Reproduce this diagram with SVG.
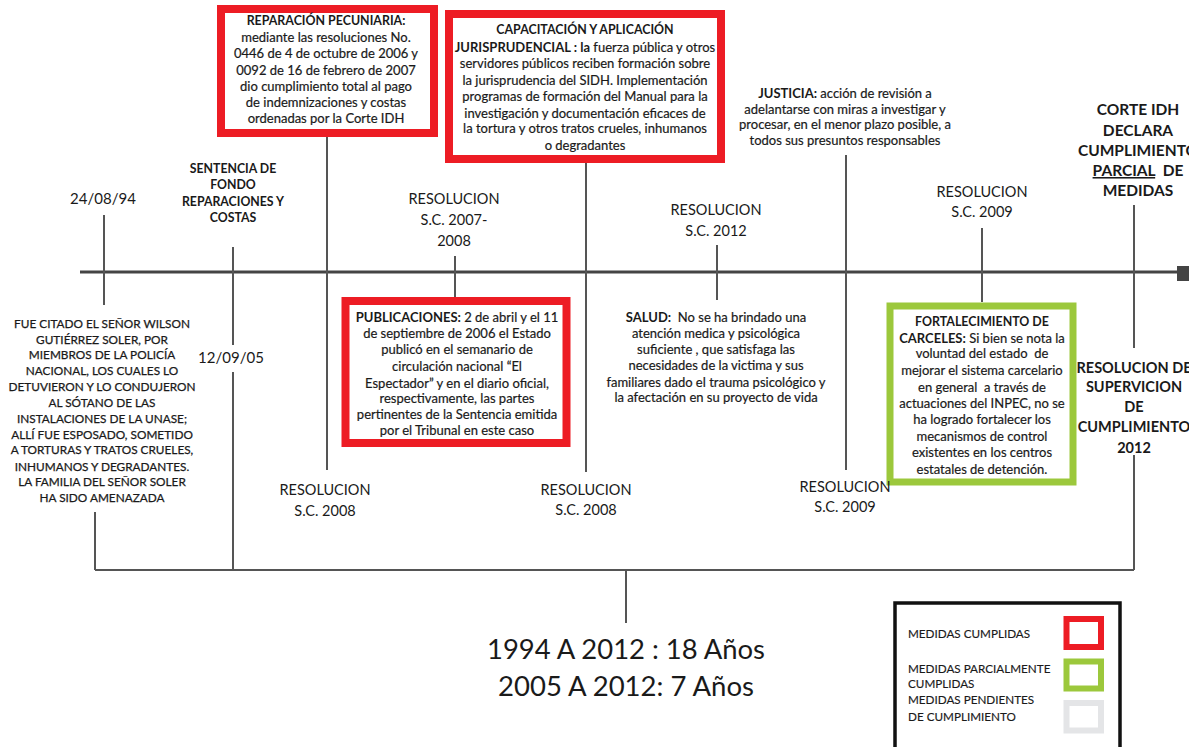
<svg xmlns="http://www.w3.org/2000/svg" width="1189" height="747" viewBox="0 0 1189 747">
  <style>
    text { font-family: Lato, "Liberation Sans", sans-serif; fill: #1a1a1a; text-anchor: middle; white-space: pre; }
    .b { font-weight: bold; }
    .box { font-size: 13px; stroke: #1a1a1a; stroke-width: 0.2; }
    .ttl { font-size: 12.4px; font-weight: bold; }
    .cap { font-size: 11.8px; stroke: #1a1a1a; stroke-width: 0.25; }
    .sent { font-size: 12.3px; font-weight: bold; }
    .date { font-size: 15px; }
    .res { font-size: 14.5px; }
    .hd { font-size: 15.5px; font-weight: bold; }
    .big { font-size: 26px; }
    .leg { font-size: 11.7px; text-anchor: start; stroke: #1a1a1a; stroke-width: 0.15; }
    .line { stroke: #555; stroke-width: 2; fill: none; }
    .axis { stroke: #444; stroke-width: 3; fill: none; }
    .red { fill: #fff; stroke: #ed1c24; stroke-width: 8; }
    .green { fill: #fff; stroke: #9cc83c; stroke-width: 7; }
  </style>
  <rect width="1189" height="747" fill="#fff"/>

  <!-- connectors: main axis, ticks and bottom bracket -->
  <g id="connectors">
    <line class="axis" x1="80" y1="272" x2="1178" y2="272"/>
    <rect x="1177" y="266" width="12" height="15" fill="#444"/>
    <line class="line" x1="104" y1="215" x2="104" y2="305"/>
    <line class="line" x1="95" y1="512" x2="95" y2="570"/>
    <line class="line" x1="233" y1="247" x2="233" y2="345"/>
    <line class="line" x1="233" y1="372" x2="233" y2="570"/>
    <line class="line" x1="327" y1="135" x2="327" y2="470"/>
    <line class="line" x1="455" y1="256" x2="455" y2="297"/>
    <line class="line" x1="586" y1="163" x2="586" y2="472"/>
    <line class="line" x1="717" y1="245" x2="717" y2="300"/>
    <line class="line" x1="846" y1="155" x2="846" y2="470"/>
    <line class="line" x1="982" y1="228" x2="982" y2="302"/>
    <line class="line" x1="1134" y1="205" x2="1134" y2="348"/>
    <line class="line" x1="1134" y1="455" x2="1134" y2="570"/>
    <line class="line" x1="95" y1="570" x2="1134" y2="570"/>
    <line class="line" x1="626" y1="570" x2="626" y2="623"/>
  </g>

  <!-- events above the axis -->
  <g id="n-reparacion">
    <rect class="red" x="221" y="9" width="213" height="124"/>
    <text class="ttl" x="326" y="25">REPARACIÓN PECUNIARIA:</text>
    <text class="box" x="326" y="42">mediante las resoluciones No.</text>
    <text class="box" x="326" y="58">0446 de 4 de octubre de 2006 y</text>
    <text class="box" x="326" y="74.5">0092 de 16 de febrero de 2007</text>
    <text class="box" x="326" y="90.5">dio cumplimiento total al pago</text>
    <text class="box" x="326" y="107">de indemnizaciones y costas</text>
    <text class="box" x="326" y="123">ordenadas por la Corte IDH</text>
  </g>

  <g id="n-capacitacion">
    <rect class="red" x="449" y="14" width="272" height="145"/>
    <text class="ttl" x="585" y="34">CAPACITACIÓN Y APLICACIÓN</text>
    <text class="box" x="585" y="51.5"><tspan class="b" stroke-width="0">JURISPRUDENCIAL : la</tspan> fuerza pública y otros</text>
    <text class="box" x="585" y="68">servidores públicos reciben formación sobre</text>
    <text class="box" x="585" y="84.5">la jurisprudencia del SIDH. Implementación</text>
    <text class="box" x="585" y="101">programas de formación del Manual para la</text>
    <text class="box" x="585" y="117.5">investigación y documentación eficaces de</text>
    <text class="box" x="585" y="133">la tortura y otros tratos crueles, inhumanos</text>
    <text class="box" x="585" y="149.5">o degradantes</text>
  </g>

  <g id="n-justicia">
    <text class="box" x="845" y="98"><tspan class="b" stroke-width="0">JUSTICIA:</tspan> acción de revisión a</text>
    <text class="box" x="845" y="114">adelantarse con miras a investigar y</text>
    <text class="box" x="845" y="129">procesar, en el menor plazo posible, a</text>
    <text class="box" x="845" y="144.5">todos sus presuntos responsables</text>
  </g>

  <g id="n-corte">
    <text class="hd" x="1138" y="115">CORTE IDH</text>
    <text class="hd" x="1138" y="136">DECLARA</text>
    <text class="hd" x="1138" y="156">CUMPLIMIENTO</text>
    <text class="hd" x="1138" y="176"><tspan text-decoration="underline">PARCIAL</tspan>  DE</text>
    <text class="hd" x="1138" y="196">MEDIDAS</text>
  </g>

  <g id="n-fecha94">
    <text class="date" x="103" y="203.5">24/08/94</text>
  </g>

  <g id="n-sentencia">
    <text class="sent" x="233" y="172.5">SENTENCIA DE</text>
    <text class="sent" x="233" y="188.5">FONDO</text>
    <text class="sent" x="233" y="206">REPARACIONES Y</text>
    <text class="sent" x="233" y="222">COSTAS</text>
  </g>

  <g id="n-res0708">
    <text class="res" x="454" y="204">RESOLUCION</text>
    <text class="res" x="454" y="225">S.C. 2007-</text>
    <text class="res" x="454" y="246">2008</text>
  </g>

  <g id="n-res2012">
    <text class="res" x="716" y="215">RESOLUCION</text>
    <text class="res" x="716" y="236">S.C. 2012</text>
  </g>

  <g id="n-res2009a">
    <text class="res" x="982" y="197">RESOLUCION</text>
    <text class="res" x="982" y="217">S.C. 2009</text>
  </g>

  <!-- events below the axis -->
  <g id="n-hechos">
    <text class="cap" x="102" y="327.5">FUE CITADO EL SEÑOR WILSON</text>
    <text class="cap" x="102" y="343.5">GUTIÉRREZ SOLER, POR</text>
    <text class="cap" x="102" y="359">MIEMBROS DE LA POLICÍA</text>
    <text class="cap" x="102" y="375">NACIONAL, LOS CUALES LO</text>
    <text class="cap" x="102" y="391">DETUVIERON Y LO CONDUJERON</text>
    <text class="cap" x="102" y="407">AL SÓTANO DE LAS</text>
    <text class="cap" x="102" y="422.5">INSTALACIONES DE LA UNASE;</text>
    <text class="cap" x="102" y="438.5">ALLÍ FUE ESPOSADO, SOMETIDO</text>
    <text class="cap" x="102" y="454">A TORTURAS Y TRATOS CRUELES,</text>
    <text class="cap" x="102" y="471">INHUMANOS Y DEGRADANTES.</text>
    <text class="cap" x="102" y="486">LA FAMILIA DEL SEÑOR SOLER</text>
    <text class="cap" x="102" y="502">HA SIDO AMENAZADA</text>
  </g>

  <g id="n-fecha05">
    <text class="date" x="231" y="363">12/09/05</text>
  </g>

  <g id="n-publicaciones">
    <rect class="red" x="345.5" y="301" width="221" height="142"/>
    <text class="box" x="457" y="321.5"><tspan class="b" stroke-width="0">PUBLICACIONES:</tspan> 2 de abril y el 11</text>
    <text class="box" x="457" y="338">de septiembre de 2006 el Estado</text>
    <text class="box" x="457" y="354">publicó en el semanario de</text>
    <text class="box" x="457" y="370.5">circulación nacional “El</text>
    <text class="box" x="457" y="387.5">Espectador” y en el diario oficial,</text>
    <text class="box" x="457" y="403">respectivamente, las partes</text>
    <text class="box" x="457" y="419">pertinentes de la Sentencia emitida</text>
    <text class="box" x="457" y="434.5">por el Tribunal en este caso</text>
  </g>

  <g id="n-salud">
    <text class="box" x="716" y="321.5"><tspan class="b" stroke-width="0">SALUD:</tspan>  No se ha brindado una</text>
    <text class="box" x="716" y="338">atención medica y psicológica</text>
    <text class="box" x="716" y="354">suficiente , que satisfaga las</text>
    <text class="box" x="716" y="369.5">necesidades de la victima y sus</text>
    <text class="box" x="716" y="386.5">familiares dado el trauma psicológico y</text>
    <text class="box" x="716" y="402">la afectación en su proyecto de vida</text>
  </g>

  <g id="n-carceles">
    <rect class="green" x="890" y="306" width="183" height="176"/>
    <text class="ttl" x="982" y="326">FORTALECIMIENTO DE</text>
    <text class="box" x="982" y="342.5"><tspan class="b" stroke-width="0">CARCELES:</tspan> Si bien se nota la</text>
    <text class="box" x="982" y="358">voluntad del estado  de</text>
    <text class="box" x="982" y="374.5">mejorar el sistema carcelario</text>
    <text class="box" x="982" y="391.5">en general  a través de</text>
    <text class="box" x="982" y="407.5">actuaciones del INPEC, no se</text>
    <text class="box" x="982" y="424">ha logrado fortalecer los</text>
    <text class="box" x="982" y="440.5">mecanismos de control</text>
    <text class="box" x="982" y="457">existentes en los centros</text>
    <text class="box" x="982" y="473.5">estatales de detención.</text>
  </g>

  <g id="n-supervicion">
    <text class="b" font-size="14.5" x="1134" y="373">RESOLUCION DE</text>
    <text class="b" font-size="14.5" x="1134" y="392">SUPERVICION</text>
    <text class="b" font-size="14.5" x="1134" y="412">DE</text>
    <text class="b" font-size="14.5" x="1134" y="432">CUMPLIMIENTO</text>
    <text class="b" font-size="14.5" x="1134" y="452.5">2012</text>
  </g>

  <g id="n-res2008a">
    <text class="res" x="325" y="495">RESOLUCION</text>
    <text class="res" x="325" y="516">S.C. 2008</text>
  </g>

  <g id="n-res2008b">
    <text class="res" x="586" y="495">RESOLUCION</text>
    <text class="res" x="586" y="515">S.C. 2008</text>
  </g>

  <g id="n-res2009b">
    <text class="res" x="845" y="492">RESOLUCION</text>
    <text class="res" x="845" y="512">S.C. 2009</text>
  </g>

  <!-- totals -->
  <g id="n-totales">
    <text class="big" x="626" y="659" textLength="278" lengthAdjust="spacingAndGlyphs">1994 A 2012 : 18 Años</text>
    <text class="big" x="626" y="696" textLength="256" lengthAdjust="spacingAndGlyphs">2005 A 2012: 7 Años</text>
  </g>

  <!-- legend -->
  <g id="legend">
    <rect x="895" y="603" width="225" height="150" fill="#fff" stroke="#111" stroke-width="3.5"/>
    <text class="leg" x="908" y="638">MEDIDAS CUMPLIDAS</text>
    <text class="leg" x="908" y="673">MEDIDAS PARCIALMENTE</text>
    <text class="leg" x="908" y="688">CUMPLIDAS</text>
    <text class="leg" x="908" y="703.5">MEDIDAS PENDIENTES</text>
    <text class="leg" x="908" y="721">DE CUMPLIMIENTO</text>
    <rect x="1066.5" y="619" width="34.5" height="28" fill="#fff" stroke="#ed1c24" stroke-width="6"/>
    <rect x="1066.5" y="661.5" width="34.5" height="27" fill="#fff" stroke="#9cc83c" stroke-width="6"/>
    <rect x="1066.5" y="703" width="34.5" height="27.5" fill="#fff" stroke="#e4e5e7" stroke-width="6"/>
  </g>
</svg>
